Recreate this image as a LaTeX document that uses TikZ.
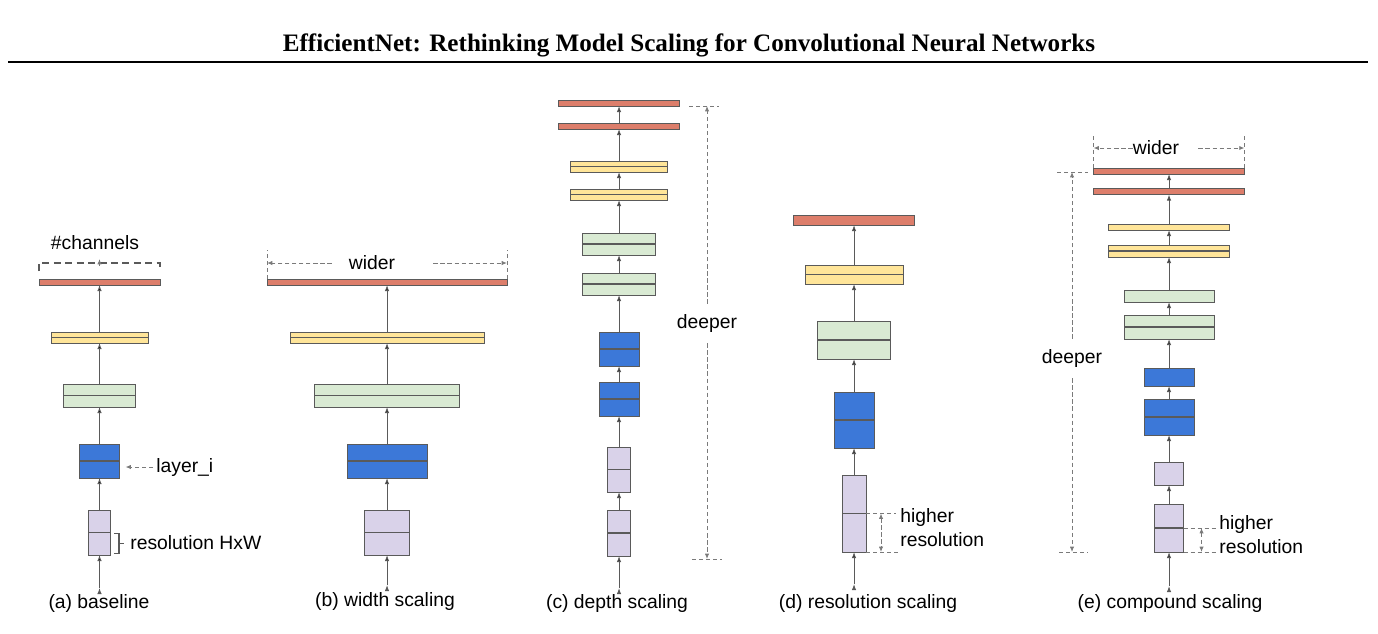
\documentclass[tikz,border=0pt]{standalone}
\usepackage{fontspec}
\setmainfont{Liberation Sans}
\newfontfamily\titlefont{Liberation Serif}
\usepackage{xcolor}
\usepackage{tikz}
\usetikzlibrary{arrows.meta,positioning}

\definecolor{lred}{HTML}{DD7E6B}
\definecolor{lyel}{HTML}{FFE599}
\definecolor{lgrn}{HTML}{D9EAD3}
\definecolor{lblu}{HTML}{3C78D8}
\definecolor{lpur}{HTML}{D9D2E9}
\definecolor{edge}{HTML}{5A5A5A}
\definecolor{anngray}{HTML}{7A7A7A}
\newdimen\px \px=0.02cm

\begin{document}
\begin{tikzpicture}[
    x=0.02cm, y=-0.02cm,
    sz/.style 2 args={rectangle, draw=edge, line width=0.5pt, inner sep=0pt, outer sep=0pt, minimum width=#1*\px, minimum height=#2*\px},
    redbar/.style={fill=lred},
    yelbar/.style={fill=lyel},
    grnbox/.style={fill=lgrn},
    blubox/.style={fill=lblu},
    purbox/.style={fill=lpur},
    split/.style={path picture={\draw[edge, line width=0.6pt] (path picture bounding box.west) -- (path picture bounding box.east);}},
    arr/.style={draw=edge, line width=0.55pt, -{Latex[length=3.5pt,width=2.6pt]}},
    ann/.style={draw=anngray, line width=0.5pt, dash pattern=on 2.5pt off 1.5pt},
    annarr/.style={ann, -{Latex[length=3pt,width=2.4pt]}},
    annboth/.style={ann, {Latex[length=3pt,width=2.4pt]}-{Latex[length=3pt,width=2.4pt]}},
    lbl/.style={font=\fontsize{11}{13.6}\selectfont, inner sep=0pt, align=left}
]
\useasboundingbox (0,0) rectangle (1378,633);

% header
\node[font=\titlefont\fontsize{14.3}{16}\selectfont\bfseries] (title) at (689,45) {EfficientNet: Rethinking Model Scaling for Convolutional Neural Networks};
\draw[line width=0.05cm] (8,62) -- (1368,62);

% (a) baseline
\coordinate (a0) at (99.5,588);
\node[sz={22}{45}, purbox, split] (a1) at (99.5,532.5) {};
\node[sz={40}{34}, blubox, split] (a2) at (99.5,461) {};
\node[sz={72}{23}, grnbox, split] (a3) at (99.5,395.5) {};
\node[sz={97}{11}, yelbar, split] (a4) at (99.5,337.5) {};
\node[sz={121}{6}, redbar] (a5) at (99.5,282) {};
\draw[arr] (a0) edge (a1) (a1) edge (a2) (a2) edge (a3) (a3) edge (a4) (a4) edge (a5);
\node[lbl] (ach) at (95,243) {\#channels};
\draw[draw=edge, line width=1.1pt, dash pattern=on 4pt off 2.5pt] (a5.north west |- 0,271) -- (a5.north west |- 0,263) -- (a5.north east |- 0,263) -- (a5.north east |- 0,271);
\draw[annarr] (99.5,266) -- (99.5,259);
\node[lbl, anchor=west] (ali) at (156,467) {layer\_i};
\draw[annarr] ([xshift=-0.06cm]ali.west) -- ([xshift=0.12cm]a2.east |- ali.west);
\draw[draw=edge, line width=0.9pt] (114,533.5) -- (119,533.5) -- (119,553.5) -- (114,553.5) (119,543.5) -- (124,543.5);
\node[lbl, anchor=west] (ares) at (130,543) {resolution HxW};
\node[lbl] (capa) at (99,603) {(a) baseline};

% (b) width scaling
\coordinate (b0) at (387,585);
\node[sz={45}{45}, purbox, split] (b1) at (387,532.5) {};
\node[sz={80}{34}, blubox, split] (b2) at (387,461) {};
\node[sz={145}{23}, grnbox, split] (b3) at (387,395.5) {};
\node[sz={194}{11}, yelbar, split] (b4) at (387,337.5) {};
\node[sz={240}{6}, redbar] (b5) at (387,282) {};
\draw[arr] (b0) edge (b1) (b1) edge (b2) (b2) edge (b3) (b3) edge (b4) (b4) edge (b5);
\node[lbl] (bwd) at (372,263) {wider};
\draw[ann] (b5.north west) -- ++(0,-29) (b5.north east) -- ++(0,-29);
\draw[annarr] ([xshift=-0.34cm]bwd.west) -- (bwd -| b5.west);
\draw[annarr] ([xshift=0.76cm]bwd.east) -- (bwd -| b5.east);
\node[lbl] (capb) at (385,601) {(b) width scaling};

% (c) depth scaling
\coordinate (c0) at (619,588);
\node[sz={23}{46}, purbox, split] (c1) at (619,533) {};
\node[sz={23}{45}, purbox, split] (c2) at (619,469.5) {};
\node[sz={40}{34}, blubox, split] (c3) at (619,399) {};
\node[sz={40}{34}, blubox, split] (c4) at (619,349) {};
\node[sz={73}{22}, grnbox, split] (c5) at (619,284) {};
\node[sz={73}{22}, grnbox, split] (c6) at (619,244) {};
\node[sz={97}{11}, yelbar, split] (c7) at (619,194.5) {};
\node[sz={97}{11}, yelbar, split] (c8) at (619,166.5) {};
\node[sz={121}{6}, redbar] (c9) at (619,126) {};
\node[sz={121}{6}, redbar] (c10) at (619,103) {};
\draw[arr] (c0) edge (c1) (c1) edge (c2) (c2) edge (c3) (c3) edge (c4) (c4) edge (c5)
    (c5) edge (c6) (c6) edge (c7) (c7) edge (c8) (c8) edge (c9) (c9) edge (c10);
\node[lbl] (cdp) at (707,323) {deeper};
\coordinate (ctop) at (707,106);
\coordinate (cbot) at (707,559);
\draw[ann] ([xshift=-0.36cm]ctop) -- ([xshift=0.24cm]ctop) ([xshift=-0.3cm]cbot) -- ([xshift=0.3cm]cbot);
\draw[annarr] ([yshift=0.2cm]cdp.north) -- (ctop);
\draw[annarr] ([yshift=-0.22cm]cdp.south) -- (cbot);
\node[lbl] (capc) at (617,603) {(c) depth scaling};

% (d) resolution scaling
\coordinate (d0) at (854,584);
\node[sz={24}{77}, purbox, split] (d1) at (854,513.5) {};
\node[sz={40}{56}, blubox, split] (d2) at (854,420) {};
\node[sz={73}{38}, grnbox, split] (d3) at (854,340) {};
\node[sz={98}{19}, yelbar, split] (d4) at (854,274.5) {};
\node[sz={121}{10}, redbar] (d5) at (854,220) {};
\draw[arr] (d0) edge (d1) (d1) edge (d2) (d2) edge (d3) (d3) edge (d4) (d4) edge (d5);
\draw[ann] (d1.east) -- ++(30,0) (d1.south east) -- ++(32,0);
\draw[annboth] ([xshift=0.3cm]d1.east) -- ([xshift=0.3cm]d1.south east);
\node[lbl, anchor=west] (dhr) at (900,528) {higher\\resolution};
\node[lbl] (capd) at (868,603) {(d) resolution scaling};

% (e) compound scaling
\coordinate (e0) at (1169,586);
\node[sz={29}{48}, purbox, split] (e1) at (1169,528) {};
\node[sz={29}{23}, purbox] (e2) at (1169,473.5) {};
\node[sz={50}{36}, blubox, split] (e3) at (1169,417) {};
\node[sz={50}{18}, blubox] (e4) at (1169,377) {};
\node[sz={90}{24}, grnbox, split] (e5) at (1169,327) {};
\node[sz={90}{12}, grnbox] (e6) at (1169,296) {};
\node[sz={121}{12}, yelbar, split] (e7) at (1169,251) {};
\node[sz={121}{6}, yelbar] (e8) at (1169,227) {};
\node[sz={151}{6}, redbar] (e9) at (1169,191.5) {};
\node[sz={151}{6}, redbar] (e10) at (1169,171) {};
\draw[arr] (e0) edge (e1) (e1) edge (e2) (e2) edge (e3) (e3) edge (e4) (e4) edge (e5)
    (e5) edge (e6) (e6) edge (e7) (e7) edge (e8) (e8) edge (e9) (e9) edge (e10);
\node[lbl] (ewd) at (1156,148) {wider};
\draw[ann] (e10.north west) -- ++(0,-33) (e10.north east) -- ++(0,-33);
\draw[annarr] (ewd.west) -- (ewd -| e10.west);
\draw[annarr] ([xshift=0.38cm]ewd.east) -- (ewd -| e10.east);
\node[lbl] (edp) at (1072,358) {deeper};
\coordinate (etop) at (1072,172);
\coordinate (ebot) at (1072,552);
\draw[ann] ([xshift=-0.3cm]etop) -- ([xshift=0.32cm]etop) ([xshift=-0.26cm]ebot) -- ([xshift=0.32cm]ebot);
\draw[annarr] ([yshift=0.2cm]edp.north) -- (etop);
\draw[annarr] ([yshift=-0.22cm]edp.south) -- (ebot);
\draw[ann] (e1.east) -- ++(33,0) (e1.south east) -- ++(35,0);
\draw[annboth] ([xshift=0.36cm]e1.east) -- ([xshift=0.36cm]e1.south east);
\node[lbl, anchor=west] (ehr) at (1219,535) {higher\\resolution};
\node[lbl] (cape) at (1170,603) {(e) compound scaling};
\end{tikzpicture}
\end{document}
